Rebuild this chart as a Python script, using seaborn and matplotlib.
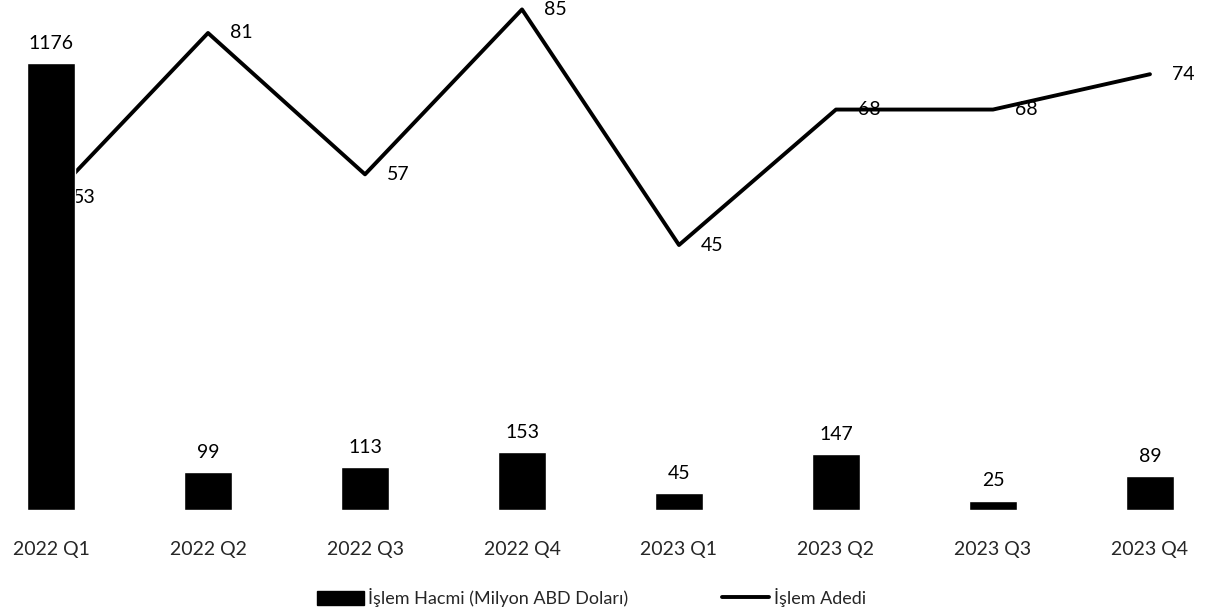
import matplotlib
matplotlib.use("Agg")
import matplotlib.pyplot as plt
import numpy as np
import pandas as pd
import seaborn as sns
from matplotlib.patches import Patch
from matplotlib.lines import Line2D

sns.set_theme(style="white")
plt.rcParams['font.family'] = ['Lato', 'DejaVu Sans']

# Data
quarters = ['2022 Q1', '2022 Q2', '2022 Q3', '2022 Q4',
            '2023 Q1', '2023 Q2', '2023 Q3', '2023 Q4']
volume = [1176, 99, 113, 153, 45, 147, 25, 89]   # İşlem Hacmi (Milyon ABD Doları)
count = [53, 81, 57, 85, 45, 68, 68, 74]         # İşlem Adedi

df = pd.DataFrame({'Quarter': quarters, 'Volume': volume, 'Count': count})

fig = plt.figure(figsize=(12.09, 6.16), dpi=100)
ax = fig.add_axes([0.0, 0.172, 1.0, 0.828])
ax2 = ax.twinx()

# line first (bars are drawn over it, as in the original)
sns.lineplot(data=df, x='Quarter', y='Count', ax=ax, color='black',
             linewidth=2.8, sort=False)
ax.lines[0].set_clip_on(False)
for i, v in enumerate(count):
    ax.annotate(str(v), (i, v), xytext=(16, 0), textcoords='offset points',
                ha='left', va='center', fontsize=14, color='black')

sns.barplot(data=df, x='Quarter', y='Volume', ax=ax2, color='black',
            width=0.31, saturation=1)
for i, v in enumerate(volume):
    ax2.annotate(str(v), (i, v), xytext=(0, 8), textcoords='offset points',
                 ha='center', va='bottom', fontsize=14, color='black')

ax.set_xlim(-0.325, 7.376)
ax.set_ylim(0, 86.6)
ax2.set_ylim(0, 1342)

for a in (ax, ax2):
    for s in a.spines.values():
        s.set_visible(False)
    a.set_xlabel('')
    a.set_ylabel('')
    a.set_yticks([])
    a.grid(False)
ax.tick_params(axis='x', length=0, pad=22, labelsize=14)
ax2.tick_params(axis='x', length=0, labelbottom=False)
ax.set_xticks(range(len(quarters)))
ax.set_xticklabels(quarters)

handles = [Patch(facecolor='black', edgecolor='black'),
           Line2D([0], [0], color='black', linewidth=2.8)]
labels = ['İşlem Hacmi (Milyon ABD Doları)', 'İşlem Adedi']
fig.legend(handles, labels, loc='center', bbox_to_anchor=(0.489, 0.03),
           ncol=2, frameon=False, fontsize=13, handlelength=2.6,
           handleheight=0.8, handletextpad=0.25, columnspacing=5.2)

fig.savefig('out.png', dpi=100)
